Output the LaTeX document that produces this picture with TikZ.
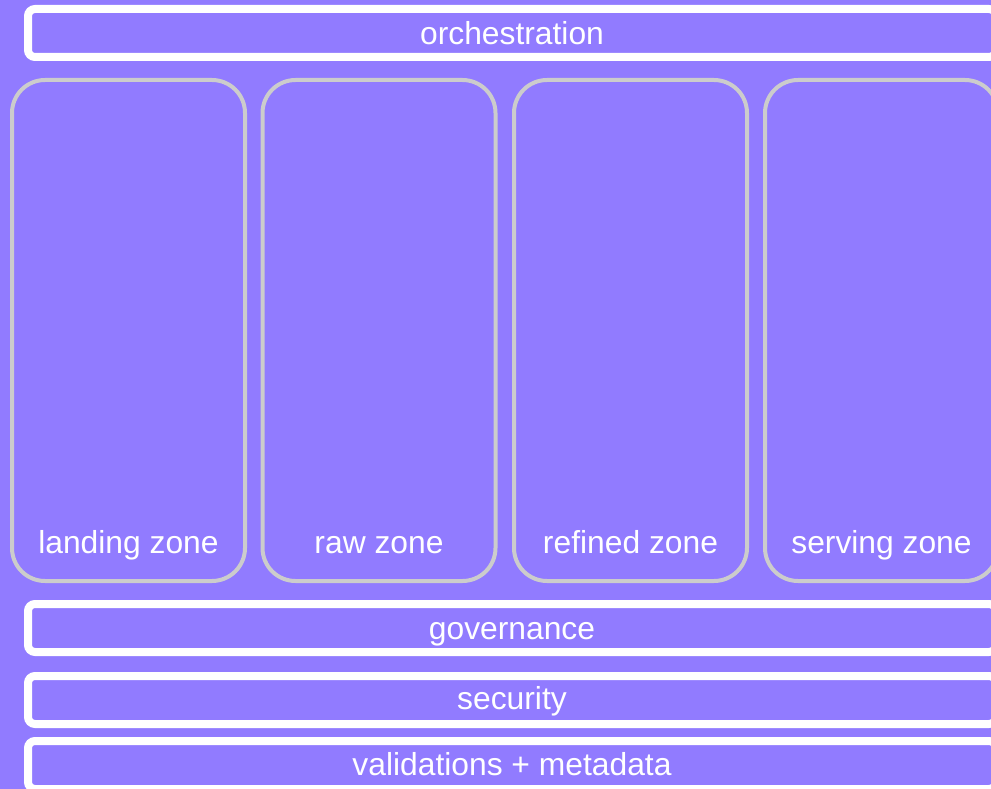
\documentclass[tikz,border=0pt]{standalone}
\usepackage{fontspec}
\setmainfont{Liberation Sans}
\definecolor{bgpurple}{RGB}{145,123,255}
\definecolor{zonegray}{RGB}{204,204,204}
\begin{document}
\begin{tikzpicture}[x=1pt,y=-1pt,
  bar/.style={draw=white, line width=8pt, rounded corners=7pt, rectangle,
    minimum width=968pt, minimum height=48pt, inner sep=0pt},
  zone/.style={draw=zonegray, line width=4pt, rounded corners=33pt, rectangle,
    minimum width=233pt, minimum height=501pt, inner sep=0pt},
  lbl/.style={text=white, font=\fontsize{31.8}{36}\selectfont, inner sep=0pt, anchor=base}]
\fill[bgpurple] (0,0) rectangle (991,789);
\useasboundingbox (0,0) rectangle (991,789);
\clip (0,0) rectangle (991,789);
\node[bar] (orch) at (512,33) {};
\node[lbl] (orchl) at (512,44.3) {orchestration};
\node[zone] (landing) at (128.5,330.5) {};
\node[zone] (raw) at (379,330.5) {};
\node[zone] (refined) at (630.5,330.5) {};
\node[zone] (serving) at (881.5,330.5) {};
\node[lbl] (landingl) at (128.5,553) {landing zone};
\node[lbl] (rawl) at (379,553) {raw zone};
\node[lbl] (refinedl) at (630.5,553) {refined zone};
\node[lbl] (servingl) at (881.5,553) {serving zone};
\node[bar] (gov) at (512,628) {};
\node[lbl] (govl) at (512,639.3) {governance};
\node[bar] (sec) at (512,700) {};
\node[lbl] (secl) at (512,709.3) {security};
\node[bar] (valid) at (512,765) {};
\node[lbl] (validl) at (512,775.3) {validations + metadata};
\end{tikzpicture}
\end{document}
